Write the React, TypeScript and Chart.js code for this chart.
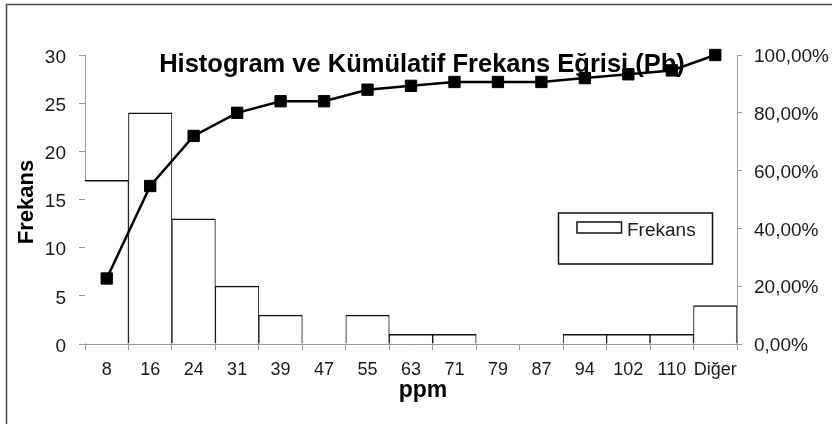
import { useEffect, useRef } from "react";
import { Chart, registerables } from "chart.js";

Chart.register(...registerables);

// Class upper limits (ppm) of the Pb histogram
const categories = ["8", "16", "24", "31", "39", "47", "55", "63", "71", "79", "87", "94", "102", "110", "Diğer"];
// Number of samples in each class
const frequencies = [17, 24, 13, 6, 3, 0, 3, 1, 1, 0, 0, 1, 1, 1, 4];
// Cumulative share of samples, in percent
const cumulativePercent = [22.67, 54.67, 72, 80, 84, 84, 88, 89.33, 90.67, 90.67, 90.67, 92, 93.33, 94.67, 100];

const chartTitle = "Histogram ve Kümülatif Frekans Eğrisi (Pb)";
const xAxisTitle = "ppm";
const yAxisTitle = "Frekans";
const legendLabel = "Frekans";

const FONT = "'Liberation Sans', Arial, Helvetica, sans-serif";
const AXIS_GRAY = "#9a9a9a";
const TEXT = "#1a1a1a";

const decorations = {
  id: "decorations",
  beforeDraw(chart: any) {
    const { ctx, width, height } = chart;
    ctx.save();
    ctx.fillStyle = "#ffffff";
    ctx.fillRect(0, 0, width, height);
    // outer chart frame (left and top edges inside the canvas)
    ctx.strokeStyle = "#4a4a4a";
    ctx.lineWidth = 1.5;
    ctx.strokeRect(6.5, 4.5, width + 20, height + 20);
    ctx.restore();
  },
  beforeDatasetsDraw(chart: any) {
    const { ctx } = chart;
    ctx.save();
    ctx.fillStyle = "#000";
    ctx.font = `bold 25.5px ${FONT}`;
    ctx.textAlign = "center";
    ctx.textBaseline = "alphabetic";
    ctx.fillText(chartTitle, 422, 72);
    ctx.restore();
  },
  afterDatasetsDraw(chart: any) {
    const { ctx } = chart;
    ctx.save();
    ctx.fillStyle = "#000";
    ctx.font = `bold 23px ${FONT}`;
    ctx.textAlign = "center";
    ctx.textBaseline = "alphabetic";
    ctx.fillText(xAxisTitle, 423, 397);

    ctx.save();
    ctx.font = `bold 22px ${FONT}`;
    ctx.translate(33, 202);
    ctx.rotate(-Math.PI / 2);
    ctx.fillText(yAxisTitle, 0, 0);
    ctx.restore();

    // legend box for the frequency bars
    ctx.fillStyle = "#fff";
    ctx.fillRect(558.5, 213, 154, 51);
    ctx.strokeStyle = "#111";
    ctx.lineWidth = 1.5;
    ctx.strokeRect(558.5, 213, 154, 51);
    ctx.strokeRect(577, 222, 44.5, 11);
    ctx.fillStyle = TEXT;
    ctx.font = `19px ${FONT}`;
    ctx.textAlign = "left";
    ctx.fillText(legendLabel, 627, 236);
    ctx.restore();
  },
};

export default function App() {
  const canvasRef = useRef<HTMLCanvasElement | null>(null);

  useEffect(() => {
    const canvas = canvasRef.current;
    if (!canvas) return;
    const chart = new Chart(canvas, {
      type: "bar",
      data: {
        labels: categories,
        datasets: [
          {
            type: "line",
            label: "Kümülatif %",
            data: cumulativePercent,
            yAxisID: "y1",
            borderColor: "#000",
            borderWidth: 2.5,
            pointStyle: "rect",
            pointRadius: 8,
            pointBorderWidth: 1,
            pointBackgroundColor: "#000",
            pointBorderColor: "#000",
            tension: 0,
            clip: false,
            order: 0,
          } as any,
          {
            type: "bar",
            label: legendLabel,
            data: frequencies,
            yAxisID: "y",
            backgroundColor: "#fff",
            borderColor: "#111",
            borderWidth: (c: any) =>
              c.dataIndex === 0
                ? { top: 1.5, right: 1, bottom: 0, left: 0 }
                : { top: 1.5, right: 1, bottom: 0, left: 1 },
            borderSkipped: "start",
            barPercentage: 1,
            categoryPercentage: 1,
            order: 1,
          } as any,
        ],
      },
      options: {
        responsive: false,
        animation: false,
        layout: { padding: { top: 55, left: 0, right: 0, bottom: 0 } },
        plugins: {
          legend: { display: false },
          title: { display: false },
          tooltip: { enabled: false },
        },
        scales: {
          x: {
            offset: true,
            grid: {
              offset: true,
              drawOnChartArea: false,
              drawTicks: true,
              tickLength: 6,
              color: AXIS_GRAY,
            },
            border: { color: AXIS_GRAY, width: 1 },
            ticks: {
              color: TEXT,
              font: { family: FONT, size: 18 },
              padding: 9,
              maxRotation: 0,
              autoSkip: false,
            },
            afterFit: (s: any) => {
              s.height = 80;
            },
          },
          y: {
            position: "left",
            min: 0,
            max: 30,
            ticks: {
              stepSize: 5,
              color: TEXT,
              font: { family: FONT, size: 19 },
              padding: 13,
              labelOffset: 2.5,
            },
            grid: { drawOnChartArea: false, tickLength: 6, color: AXIS_GRAY },
            border: { color: AXIS_GRAY, width: 1 },
            afterFit: (s: any) => {
              s.width = 85;
            },
          },
          y1: {
            position: "right",
            min: 0,
            max: 100,
            ticks: {
              stepSize: 20,
              color: TEXT,
              font: { family: FONT, size: 19 },
              padding: 12,
              labelOffset: 2,
              callback: (v: any) => Number(v).toFixed(2).replace(".", ",") + "%",
            },
            grid: { drawOnChartArea: false, tickLength: 5, color: AXIS_GRAY },
            border: { color: AXIS_GRAY, width: 1 },
            afterFit: (s: any) => {
              s.width = 95;
            },
          },
        },
      },
      plugins: [decorations],
    });
    return () => chart.destroy();
  }, []);

  return (
    <div style={{ position: "fixed", left: 0, top: 0, width: 832, height: 424, background: "#fff" }}>
      <canvas ref={canvasRef} width={832} height={424} style={{ display: "block" }} />
    </div>
  );
}
